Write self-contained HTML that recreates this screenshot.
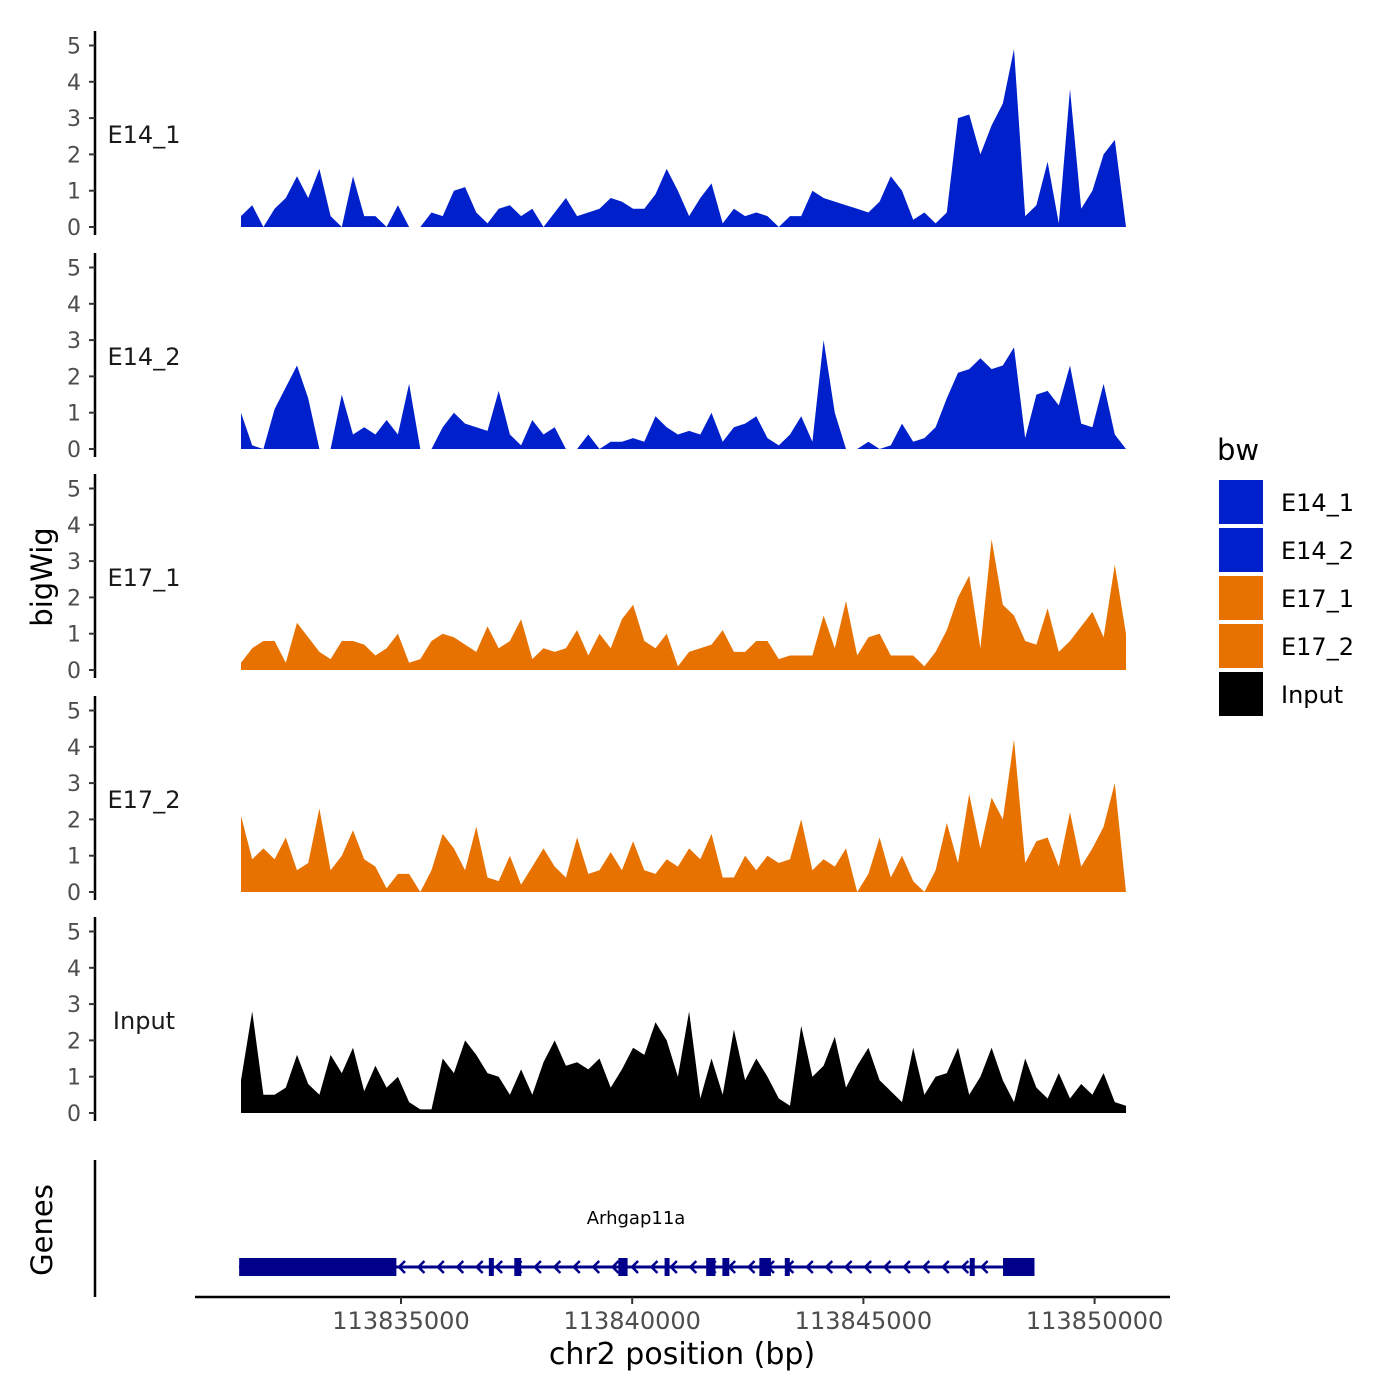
<!DOCTYPE html>
<html><head><meta charset="utf-8"><style>
body{margin:0;background:#fff}
svg{display:block;font-family:"DejaVu Sans","Liberation Sans",sans-serif}
</style></head><body>
<svg id="chart" width="1400" height="1400" viewBox="0 0 1400 1400" xmlns="http://www.w3.org/2000/svg">
<rect width="1400" height="1400" fill="#fff"/>
<g id="tracks"></g>
<g id="genes"></g>
<g id="xaxis"></g>
<text x="0" y="0" transform="translate(52,577) rotate(-90)" text-anchor="middle" font-size="29" fill="#000">bigWig</text>
<text x="0" y="0" transform="translate(52,1230) rotate(-90)" text-anchor="middle" font-size="29" fill="#000">Genes</text>
<text x="682" y="1364" text-anchor="middle" font-size="30" fill="#000">chr2 position (bp)</text>
<g id="legend"></g>
</svg>
<script>
const trackNames=["E14_1","E14_2","E17_1","E17_2","Input"];
const trackColors=["#0020CC","#0020CC","#E87200","#E87200","#000000"];
const e14_1=[0.3,0.6,0,0.5,0.8,1.4,0.8,1.6,0.3,0,
1.4,0.3,0.3,0,0.6,0,0,0.4,0.3,1.0,
1.1,0.4,0.1,0.5,0.6,0.3,0.5,0,0.4,0.8,
0.3,0.4,0.5,0.8,0.7,0.5,0.5,0.9,1.6,1.0,
0.3,0.8,1.2,0.1,0.5,0.3,0.4,0.3,0,0.3,
0.3,1.0,0.8,0.7,0.6,0.5,0.4,0.7,1.4,1.0,
0.2,0.4,0.1,0.4,3.0,3.1,2.0,2.8,3.4,4.9,
0.3,0.6,1.8,0.1,3.8,0.5,1.0,2.0,2.4,0];
const e14_2=[1.0,0.1,0,1.1,1.7,2.3,1.4,0,0,1.5,
0.4,0.6,0.4,0.8,0.4,1.8,0,0,0.6,1.0,
0.7,0.6,0.5,1.6,0.4,0.1,0.8,0.4,0.6,0,
0,0.4,0,0.2,0.2,0.3,0.2,0.9,0.6,0.4,
0.5,0.4,1.0,0.2,0.6,0.7,0.9,0.3,0.1,0.4,
0.9,0.2,3.0,1.0,0,0,0.2,0,0.1,0.7,
0.2,0.3,0.6,1.4,2.1,2.2,2.5,2.2,2.3,2.8,
0.3,1.5,1.6,1.2,2.3,0.7,0.6,1.8,0.4,0];
const e17_1=[0.2,0.6,0.8,0.8,0.2,1.3,0.9,0.5,0.3,0.8,
0.8,0.7,0.4,0.6,1.0,0.2,0.3,0.8,1.0,0.9,
0.7,0.5,1.2,0.6,0.8,1.4,0.3,0.6,0.5,0.6,
1.1,0.4,1.0,0.6,1.4,1.8,0.8,0.6,1.0,0.1,
0.5,0.6,0.7,1.1,0.5,0.5,0.8,0.8,0.3,0.4,
0.4,0.4,1.5,0.6,1.9,0.4,0.9,1.0,0.4,0.4,
0.4,0.1,0.5,1.1,2.0,2.6,0.6,3.6,1.8,1.5,
0.8,0.7,1.7,0.5,0.8,1.2,1.6,0.9,2.9,1.0];
const e17_2=[2.1,0.9,1.2,0.9,1.5,0.6,0.8,2.3,0.6,1.0,
1.7,0.9,0.7,0.1,0.5,0.5,0,0.6,1.6,1.2,
0.6,1.8,0.4,0.3,1.0,0.2,0.7,1.2,0.7,0.4,
1.5,0.5,0.6,1.1,0.6,1.4,0.6,0.5,0.9,0.7,
1.2,0.9,1.6,0.4,0.4,1.0,0.6,1.0,0.8,0.9,
2.0,0.6,0.9,0.7,1.2,0,0.5,1.5,0.4,1.0,
0.3,0,0.6,1.9,0.8,2.7,1.2,2.6,2.0,4.2,
0.8,1.4,1.5,0.7,2.2,0.7,1.2,1.8,3.0,0];
const input=[0.9,2.8,0.5,0.5,0.7,1.6,0.8,0.5,1.6,1.1,
1.8,0.6,1.3,0.7,1.0,0.3,0.1,0.1,1.5,1.1,
2.0,1.6,1.1,1.0,0.5,1.2,0.5,1.4,2.0,1.3,
1.4,1.2,1.5,0.7,1.2,1.8,1.6,2.5,2.0,1.0,
2.8,0.4,1.5,0.5,2.3,0.9,1.5,1.0,0.4,0.2,
2.4,1.0,1.3,2.1,0.7,1.3,1.8,0.9,0.6,0.3,
1.8,0.5,1.0,1.1,1.8,0.5,1.0,1.8,0.9,0.3,
1.5,0.7,0.4,1.1,0.4,0.8,0.5,1.1,0.3,0.2];
const trackValues=[e14_1,e14_2,e17_1,e17_2,input];
const yTicks=[0,1,2,3,4,5];
const xTicks=[113835000,113840000,113845000,113850000];
const xTickLabels=["113835000","113840000","113845000","113850000"];
const dataStart=113831540, dataEnd=113850680;
const geneStart=113831500, geneEnd=113848700;
const exonStarts=[113831500,113836900,113837450,113839700,113840700,113841600,113841950,113842750,113843300,113847300,113848020];
const exonEnds=[113834900,113837000,113837600,113839900,113840800,113841800,113842100,113843000,113843400,113847400,113848700];

const NS="http://www.w3.org/2000/svg";
function mk(tag,attrs,parent){const e=document.createElementNS(NS,tag);for(const k in attrs)e.setAttribute(k,attrs[k]);parent.appendChild(e);return e;}
function xScale(bp){return 401+(bp-113835000)*0.04624;}
const panelZero=[227,449,670,892,1113];
function yScale(p,v){return panelZero[p]-v*36.3;}

const tracks=document.getElementById('tracks');
trackValues.forEach((vals,p)=>{
  const g=mk('g',{},tracks);
  
  
  const n=vals.length, step=(dataEnd-dataStart)/(n-1);
  let d='M'+xScale(dataStart)+','+yScale(p,0);
  vals.forEach((v,i)=>{d+=' L'+xScale(dataStart+i*step).toFixed(1)+','+yScale(p,v).toFixed(1);});
  d+=' L'+xScale(dataEnd)+','+yScale(p,0)+' Z';
  const a=mk('path',{d:d,fill:trackColors[p]},g);
  
  
  const ax=mk('line',{x1:95,x2:95,y1:panelZero[p]-196,y2:panelZero[p]+8,stroke:'#000','stroke-width':2.5},g);
  
  
  yTicks.forEach(t=>{
    const y=yScale(p,t);
    mk('line',{x1:89,x2:95,y1:y,y2:y,stroke:'#333','stroke-width':2},g);
    const tl=mk('text',{x:81,y:y+8,'text-anchor':'end','font-size':22,fill:'#4d4d4d'},g);
    tl.textContent=t;
    
    
  });
  const lab=mk('text',{x:144,y:panelZero[p]-84,'text-anchor':'middle','font-size':24,fill:'#1a1a1a'},g);
  lab.textContent=trackNames[p];
  
  
});

// genes
const genes=document.getElementById('genes');
mk('line',{x1:95,x2:95,y1:1160,y2:1297,stroke:'#000','stroke-width':2.5},genes);
const gy=1267, col='#00008B';
mk('line',{x1:xScale(geneStart),x2:xScale(geneEnd),y1:gy,y2:gy,stroke:col,'stroke-width':3},genes);
for(let bp=geneStart+3500;bp<geneEnd-800;bp+=420){
  const x=xScale(bp);
  mk('polyline',{points:(x+4)+','+(gy-6)+' '+(x-2)+','+gy+' '+(x+4)+','+(gy+6),fill:'none',stroke:col,'stroke-width':2.5},genes);
}
exonStarts.forEach((s,i)=>{
  const x1=xScale(s),x2=xScale(exonEnds[i]);
  const r=mk('rect',{x:x1,y:gy-9,width:Math.max(5,x2-x1),height:18,fill:col},genes);
  
  
});
const gl=mk('text',{x:636,y:1224,'text-anchor':'middle','font-size':18,fill:'#000'},genes);
gl.textContent='Arhgap11a';



// x axis
const xa=document.getElementById('xaxis');
mk('line',{x1:195,x2:1170,y1:1297,y2:1297,stroke:'#000','stroke-width':2.5},xa);
xTicks.forEach((t,i)=>{
  const x=xScale(t);
  mk('line',{x1:x,x2:x,y1:1297,y2:1304,stroke:'#333','stroke-width':2},xa);
  const tl=mk('text',{x:x,y:1329,'text-anchor':'middle','font-size':24,fill:'#4d4d4d'},xa);
  tl.textContent=xTickLabels[i];
  
  
});

// legend
const lg=document.getElementById('legend');
const lt=mk('text',{x:1217,y:460,'font-size':29,fill:'#000'},lg);
lt.textContent='bw';


trackNames.forEach((nm,i)=>{
  const y=480+i*48;
  const r=mk('rect',{x:1219,y:y,width:44,height:44,fill:trackColors[i]},lg);
  
  
  const t=mk('text',{x:1281,y:y+31,'font-size':24,fill:'#000'},lg);
  t.textContent=nm;
  
  
});
</script>
</body></html>
